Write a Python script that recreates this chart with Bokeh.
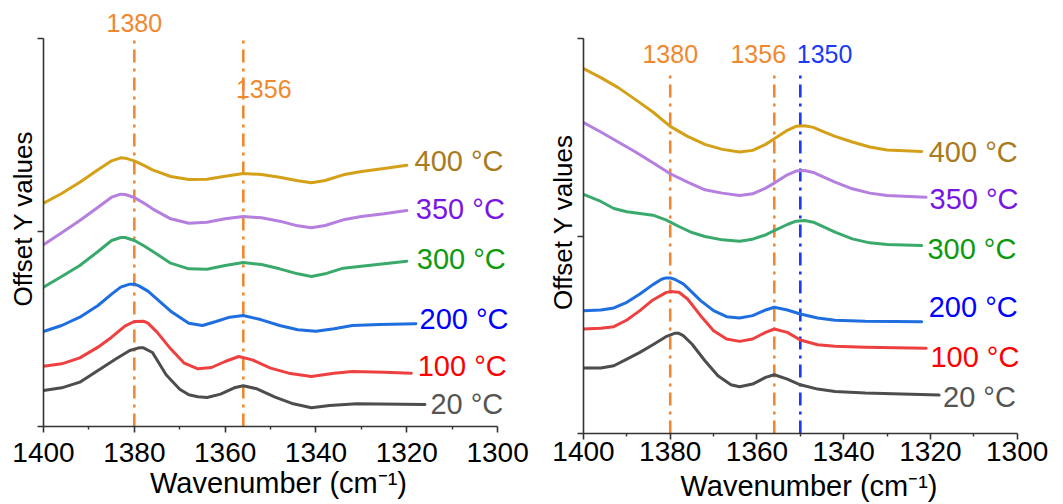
from bokeh.plotting import figure
from bokeh.layouts import row
from bokeh.models import Range1d, FixedTicker, Label, CustomJSTickFormatter
from bokeh.embed import file_html
from bokeh.resources import INLINE

FONT = "Liberation Sans"

# ---------------- shared ----------------
temps = ["400 °C", "350 °C", "300 °C", "200 °C", "100 °C", "20 °C"]
line_colors = ["#D4A017", "#B47FDE", "#3AAA6C", "#1E6EE0", "#EE4040", "#4D4D4D"]
text_colors = ["#A87C1C", "#7A16E4", "#0E9A0E", "#0000FF", "#FF0000", "#555555"]
x_major = [1400, 1380, 1360, 1340, 1320, 1300]
x_minor = [1390, 1370, 1350, 1330, 1310]

# ---------------- left panel data ----------------
L_x_400 = [1400, 1396, 1392, 1388, 1385, 1383, 1382, 1380, 1378, 1376, 1372, 1368, 1364, 1360, 1356, 1352, 1348, 1344, 1341, 1338, 1334, 1330, 1325, 1320]
L_y_400 = [6.70, 6.99, 7.33, 7.70, 7.97, 8.06, 8.05, 7.97, 7.84, 7.70, 7.50, 7.41, 7.42, 7.51, 7.59, 7.56, 7.48, 7.37, 7.31, 7.38, 7.55, 7.65, 7.74, 7.84]
L_x_350 = [1400, 1396, 1392, 1388, 1385, 1383, 1382, 1380, 1378, 1376, 1372, 1368, 1364, 1360, 1356, 1352, 1348, 1344, 1341, 1338, 1334, 1330, 1325, 1320]
L_y_350 = [5.45, 5.81, 6.18, 6.58, 6.88, 6.97, 6.96, 6.87, 6.71, 6.53, 6.23, 6.10, 6.13, 6.23, 6.30, 6.26, 6.16, 6.02, 5.96, 6.03, 6.20, 6.30, 6.38, 6.48]
L_x_300 = [1400, 1396, 1392, 1388, 1385, 1383, 1382, 1380, 1378, 1376, 1372, 1368, 1364, 1360, 1356, 1352, 1348, 1344, 1341, 1338, 1334, 1330, 1325, 1320]
L_y_300 = [4.18, 4.50, 4.83, 5.25, 5.58, 5.67, 5.67, 5.58, 5.43, 5.26, 4.90, 4.73, 4.72, 4.83, 4.92, 4.86, 4.73, 4.58, 4.50, 4.58, 4.75, 4.81, 4.88, 4.96]
L_x_200 = [1400, 1396, 1392, 1388, 1385, 1383, 1381, 1380, 1379, 1377, 1375, 1372, 1368, 1365, 1362, 1359, 1356, 1352, 1348, 1344, 1340, 1336, 1332, 1326, 1318]
L_y_200 = [2.85, 3.03, 3.28, 3.63, 3.97, 4.18, 4.27, 4.27, 4.22, 4.06, 3.82, 3.46, 3.10, 3.03, 3.15, 3.28, 3.33, 3.20, 3.03, 2.90, 2.86, 2.93, 3.03, 3.06, 3.08]
L_x_100 = [1400, 1396, 1392, 1388, 1385, 1382, 1380, 1378, 1377, 1375, 1372, 1369, 1366, 1363, 1360, 1357, 1354, 1350, 1346, 1341, 1336, 1332, 1325, 1319]
L_y_100 = [1.81, 1.88, 2.06, 2.38, 2.68, 3.02, 3.15, 3.16, 3.10, 2.83, 2.33, 1.90, 1.73, 1.77, 1.95, 2.10, 2.00, 1.75, 1.60, 1.50, 1.60, 1.65, 1.63, 1.60]
L_x_20 = [1400, 1396, 1392, 1388, 1384, 1381, 1379, 1378, 1376, 1373, 1370, 1368, 1366, 1364, 1361, 1358, 1356, 1353, 1349, 1345, 1341, 1337, 1331, 1316]
L_y_20 = [1.08, 1.16, 1.33, 1.68, 2.03, 2.28, 2.36, 2.36, 2.22, 1.55, 1.12, 0.95, 0.89, 0.87, 0.97, 1.16, 1.22, 1.13, 0.88, 0.68, 0.56, 0.63, 0.68, 0.66]
L_label_x = [1318.3, 1318.0, 1317.8, 1317.2, 1317.6, 1314.8]
L_label_y = [7.98, 6.53, 5.03, 3.23, 1.83, 0.68]
L_y_ticks = [0, 5.85, 11.63]
L_peaks = [1380, 1356]
L_peak_colors = ["#F0882E", "#F0882E"]
L_peak_tops = [11.58, 11.58]
L_peak_text = ["1380", "1356"]
L_peak_text_x = [1380, 1351.5]
L_peak_text_y = [12.10, 10.13]

# ---------------- right panel data ----------------
R_x_400 = [1400, 1396, 1392, 1388, 1384, 1380, 1376, 1372, 1368, 1364, 1361, 1358, 1356, 1353, 1351, 1349, 1347, 1345, 1342, 1338, 1334, 1330, 1322]
R_y_400 = [10.93, 10.66, 10.36, 10.00, 9.63, 9.20, 8.90, 8.66, 8.51, 8.43, 8.48, 8.66, 8.83, 9.08, 9.20, 9.22, 9.17, 9.06, 8.90, 8.73, 8.58, 8.49, 8.45]
R_x_350 = [1400, 1396, 1392, 1388, 1384, 1380, 1376, 1372, 1368, 1364, 1361, 1358, 1356, 1353, 1351, 1349, 1347, 1345, 1342, 1338, 1334, 1330, 1321]
R_y_350 = [9.31, 9.03, 8.73, 8.43, 8.11, 7.78, 7.53, 7.30, 7.20, 7.13, 7.18, 7.35, 7.50, 7.75, 7.86, 7.88, 7.82, 7.70, 7.53, 7.33, 7.20, 7.13, 7.08]
R_x_300 = [1400, 1396, 1393, 1390, 1387, 1384, 1381, 1378, 1375, 1372, 1368, 1364, 1361, 1358, 1356, 1353, 1351, 1349, 1347, 1345, 1342, 1338, 1334, 1330, 1322]
R_y_300 = [7.16, 6.95, 6.74, 6.64, 6.59, 6.54, 6.40, 6.20, 6.02, 5.90, 5.80, 5.76, 5.82, 5.95, 6.08, 6.26, 6.36, 6.38, 6.33, 6.21, 6.03, 5.83, 5.71, 5.66, 5.63]
R_x_200 = [1400, 1396, 1393, 1390, 1387, 1384, 1382, 1381, 1380, 1379, 1377, 1376, 1373, 1370, 1367, 1364, 1361, 1358, 1356, 1353, 1350, 1346, 1342, 1335, 1322]
R_y_200 = [3.68, 3.70, 3.76, 3.93, 4.18, 4.46, 4.62, 4.66, 4.66, 4.62, 4.48, 4.36, 3.98, 3.68, 3.50, 3.46, 3.53, 3.70, 3.78, 3.70, 3.58, 3.46, 3.39, 3.36, 3.35]
R_x_100 = [1400, 1396, 1393, 1390, 1387, 1384, 1381, 1380, 1378, 1376, 1373, 1370, 1367, 1364, 1361, 1358, 1356, 1353, 1350, 1346, 1342, 1335, 1321]
R_y_100 = [3.13, 3.15, 3.20, 3.40, 3.68, 4.00, 4.22, 4.25, 4.23, 4.03, 3.53, 3.08, 2.83, 2.76, 2.83, 3.03, 3.13, 3.03, 2.80, 2.66, 2.61, 2.58, 2.55]
R_x_20 = [1400, 1396, 1393, 1390, 1387, 1384, 1381, 1379, 1378, 1377, 1375, 1372, 1369, 1366, 1364, 1361, 1358, 1356, 1353, 1350, 1346, 1342, 1335, 1318]
R_y_20 = [1.96, 1.96, 2.03, 2.23, 2.43, 2.66, 2.90, 3.00, 3.00, 2.93, 2.68, 2.18, 1.73, 1.46, 1.40, 1.48, 1.68, 1.76, 1.63, 1.46, 1.33, 1.26, 1.21, 1.15]
R_label_x = [1320.4, 1320.2, 1320.7, 1320.4, 1320.0, 1317.1]
R_label_y = [8.43, 7.01, 5.53, 3.80, 2.28, 1.08]
R_y_ticks = [0, 5.91, 11.83]
R_peaks = [1380, 1356, 1350]
R_peak_colors = ["#F0882E", "#F0882E", "#1A3AF5"]
R_peak_tops = [10.83, 10.83, 10.83]
R_peak_text = ["1380", "1356", "1350"]
R_peak_text_x = [1380, 1359.7, 1344.4]
R_peak_text_y = [11.36, 11.36, 11.36]


def make_panel(xs, ys, label_x, label_y, y_ticks, peaks, peak_colors, peak_tops,
               peak_text, peak_text_x, peak_text_y,
               x_end, y_end, frame_w, frame_h, b_left, b_right, b_top, b_bottom,
               tick_standoff, label_standoff):
    p = figure(frame_width=frame_w, frame_height=frame_h,
               x_range=Range1d(1400, x_end), y_range=Range1d(0, y_end),
               output_backend="svg", toolbar_location=None,
               min_border_left=b_left, min_border_right=b_right,
               min_border_top=b_top, min_border_bottom=b_bottom)
    p.outline_line_color = None
    p.xgrid.visible = False
    p.ygrid.visible = False
    p.background_fill_color = "white"
    p.border_fill_color = "white"

    # axes
    p.xaxis.ticker = FixedTicker(ticks=x_major, minor_ticks=x_minor)
    p.xaxis.bounds = (x_major[-1], x_major[0])
    p.yaxis.ticker = FixedTicker(ticks=y_ticks, minor_ticks=[])
    p.yaxis.bounds = (y_ticks[0], y_ticks[-1])
    for ax in (p.xaxis[0], p.yaxis[0]):
        ax.axis_line_color = "#333333"
        ax.axis_line_width = 1.6
        ax.major_tick_line_color = "#333333"
        ax.major_tick_line_width = 1.6
        ax.minor_tick_line_color = "#333333"
        ax.minor_tick_line_width = 1.4
        ax.major_tick_in = 0
        ax.major_tick_out = 6
        ax.minor_tick_in = 0
        ax.minor_tick_out = 3
        ax.axis_label_text_font = FONT
        ax.axis_label_text_font_style = "normal"
        ax.axis_label_text_color = "black"
        ax.major_label_text_font = FONT
        ax.major_label_text_color = "black"
    p.xaxis.major_label_text_font_size = "28px"
    p.xaxis.major_label_standoff = tick_standoff
    p.xaxis.axis_label = "Wavenumber (cm⁻¹)"
    p.xaxis.axis_label_text_font_size = "29px"
    p.xaxis.axis_label_standoff = label_standoff
    p.yaxis.formatter = CustomJSTickFormatter(code="return '';")
    p.yaxis.major_label_standoff = 0
    p.yaxis.axis_label = "Offset Y values"
    p.yaxis.axis_label_text_font_size = "26px"
    p.yaxis.axis_label_standoff = 0

    # peak marker lines
    p.segment(x0=peaks, y0=[0] * len(peaks), x1=peaks, y1=peak_tops,
              line_color=peak_colors, line_width=2.6, line_dash="13 6 3 6")
    for t, tx, ty, c in zip(peak_text, peak_text_x, peak_text_y, peak_colors):
        p.add_layout(Label(x=tx, y=ty, text=t, text_align="center",
                           text_baseline="middle", text_font=FONT,
                           text_font_size="25px", text_color=c))

    # spectra
    for x, y, c in zip(xs, ys, line_colors):
        p.line(x, y, line_color=c, line_width=3, line_join="round", line_cap="round")

    # series labels
    for t, lx, ly, c in zip(temps, label_x, label_y, text_colors):
        p.add_layout(Label(x=lx, y=ly, text=t, text_align="left",
                           text_baseline="middle", text_font=FONT,
                           text_font_size="29px", text_color=c))
    return p


left = make_panel([L_x_400, L_x_350, L_x_300, L_x_200, L_x_100, L_x_20],
                  [L_y_400, L_y_350, L_y_300, L_y_200, L_y_100, L_y_20],
                  L_label_x, L_label_y, L_y_ticks, L_peaks, L_peak_colors, L_peak_tops,
                  L_peak_text, L_peak_text_x, L_peak_text_y,
                  1296.5, 12.48, 470, 416, 43, 17, 10, 78, 10, 2)
right = make_panel([R_x_400, R_x_350, R_x_300, R_x_200, R_x_100, R_x_20],
                   [R_y_400, R_y_350, R_y_300, R_y_200, R_y_100, R_y_20],
                   R_label_x, R_label_y, R_y_ticks, R_peaks, R_peak_colors, R_peak_tops,
                   R_peak_text, R_peak_text_x, R_peak_text_y,
                   1296.0, 12.67, 451, 423, 53, 29, 10, 71, 2, 6)

layout = row(left, right, spacing=0)
open("out.html", "w").write(file_html(layout, INLINE))
